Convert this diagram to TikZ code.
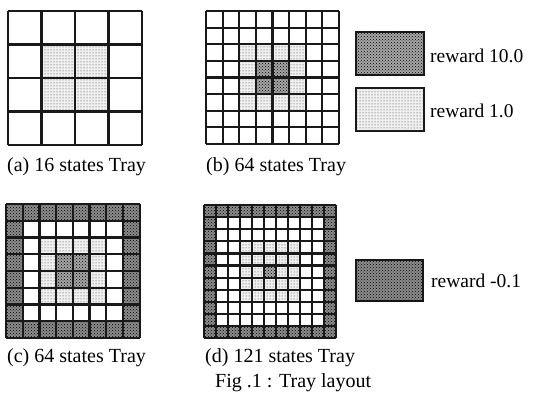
\documentclass[tikz,border=0pt]{standalone}
\usepackage{fontspec}
\setmainfont{Liberation Serif}
\usetikzlibrary{patterns}
\tikzset{
  gridline/.style={line width=2.2pt, draw=black!90},
  lightcell/.style={fill=black!6, postaction={pattern=dots, pattern color=black!80}},
  darkcell/.style={fill=black!35, postaction={pattern=crosshatch dots, pattern color=black}},
  negcell/.style={fill=black!45, postaction={pattern=crosshatch dots, pattern color=black}},
  legendbox/.style={line width=2.2pt, draw=black!90},
  captext/.style={anchor=base west, inner sep=0pt, font=\fontsize{20}{24}\selectfont},
  legtext/.style={anchor=base west, inner sep=0pt, font=\fontsize{19.5}{24}\selectfont},
}
% draws the lines of an n x n tray in unit coordinates
\newcommand\traylines[1]{%
  \foreach \k in {0,...,#1}{%
    \draw[gridline] (\k,0) -- (\k,#1);
    \draw[gridline] (0,\k) -- (#1,\k);
  }%
}
\newcommand\borderring[2]{% n, style
  \foreach \k in {0,...,\numexpr#1-1\relax}{%
    \fill[#2] (\k,0) rectangle ++(1,1);
    \fill[#2] (\k,#1-1) rectangle ++(1,1);
  }%
  \foreach \k in {1,...,\numexpr#1-2\relax}{%
    \fill[#2] (0,\k) rectangle ++(1,1);
    \fill[#2] (#1-1,\k) rectangle ++(1,1);
  }%
}
\begin{document}
\begin{tikzpicture}[x=1pt, y=-1pt]
\useasboundingbox (0,0) rectangle (540,395);
\fill[white] (0,0) rectangle (540,395);

% (a) 16 states
\begin{scope}[shift={(8,11)}, x=33.5pt, y=-33.5pt]
  \fill[lightcell] (1,1) rectangle (3,3);
  \traylines{4}
\end{scope}
\node[captext] (capa) at (7,172) {(a) 16 states Tray};

% (b) 64 states
\begin{scope}[shift={(206,11)}, x=16.625pt, y=-16.625pt]
  \fill[lightcell] (2,2) rectangle (6,6);
  \fill[white] (3,3) rectangle (5,5);
  \fill[darkcell] (3,3) rectangle (5,5);
  \traylines{8}
\end{scope}
\node[captext] (capb) at (206,172) {(b) 64 states Tray};

% (c) 64 states
\begin{scope}[shift={(6,204)}, x=16.7pt, y=-16.75pt]
  \borderring{8}{negcell}
  \fill[lightcell] (2,2) rectangle (6,6);
  \fill[white] (3,3) rectangle (5,5);
  \fill[darkcell] (3,3) rectangle (5,5);
  \traylines{8}
\end{scope}
\node[captext] (capc) at (7,362) {(c) 64 states Tray};

% (d) 121 states
\begin{scope}[shift={(204,205)}, x=12pt, y=-12.1pt]
  \borderring{11}{negcell}
  \fill[lightcell] (3,3) rectangle (8,8);
  \fill[white] (5,5) rectangle (6,6);
  \fill[darkcell] (5,5) rectangle (6,6);
  \traylines{11}
\end{scope}
\node[captext] (capd) at (205,362) {(d) 121 states Tray};

% legend
\draw[legendbox, darkcell] (356,32) rectangle (424,75);
\node[legtext] (l1) at (430,63) {reward 10.0};
\draw[legendbox, lightcell] (356,88) rectangle (424,131);
\node[legtext] (l2) at (430,118) {reward 1.0};
\draw[legendbox, negcell] (356,260) rectangle (423,301);
\node[legtext] (l3) at (431,287) {reward -0.1};

% figure caption
\node[captext] (fig) at (215,387) {Fig .1 : Tray layout};
\end{tikzpicture}
\end{document}
